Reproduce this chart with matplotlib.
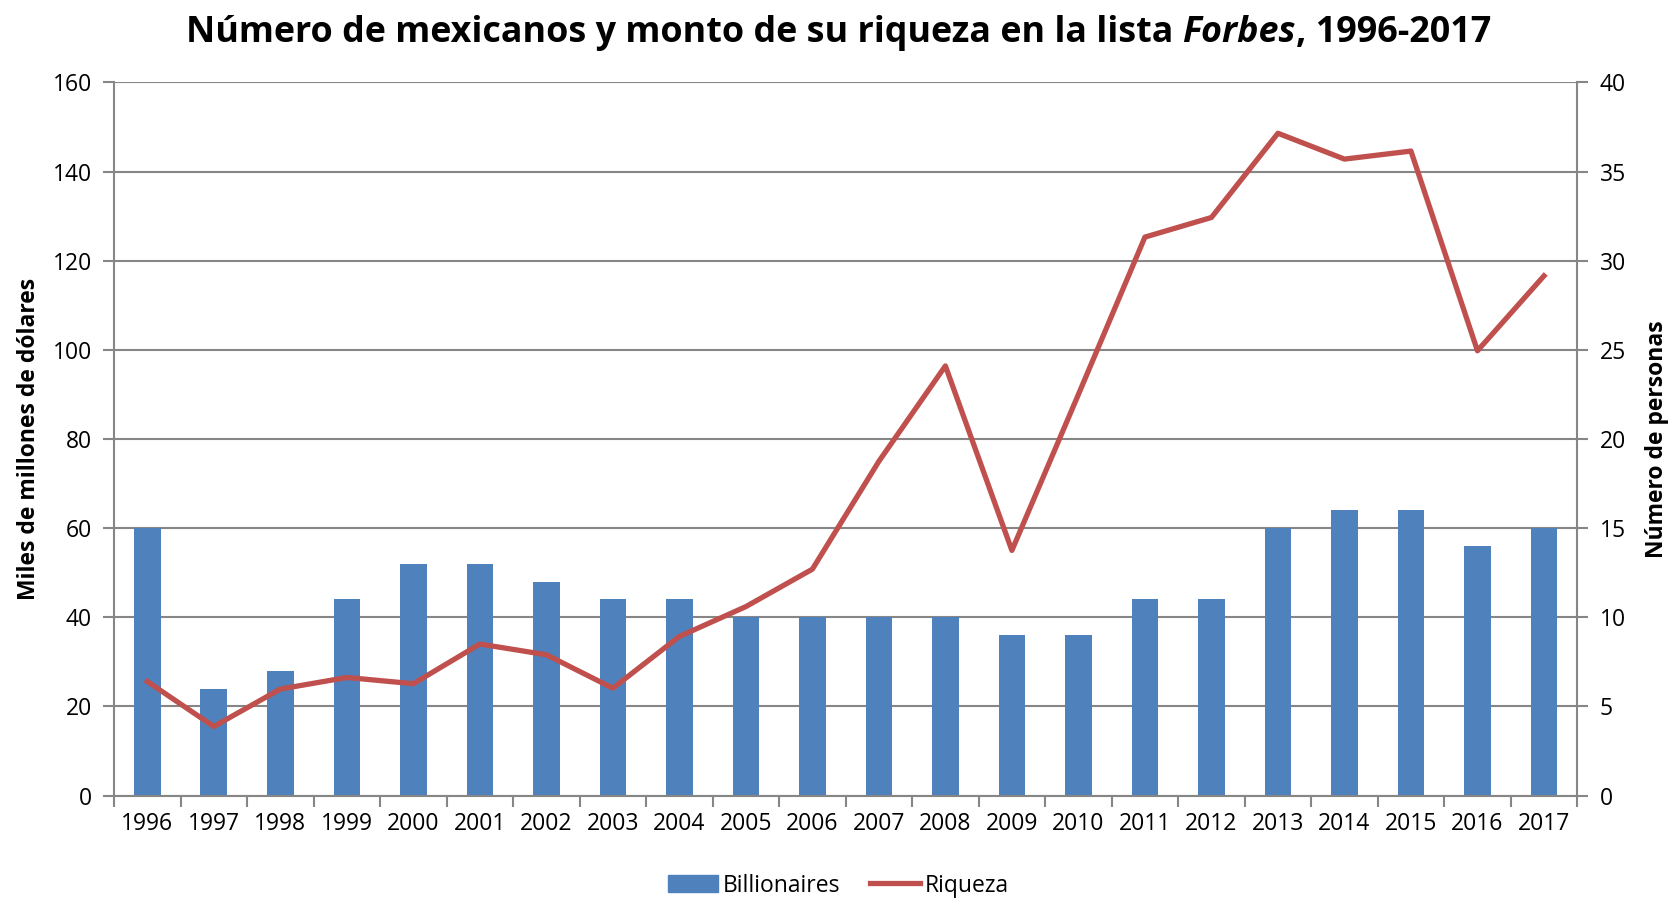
import matplotlib
matplotlib.use('Agg')
import matplotlib.pyplot as plt
from matplotlib.patches import Patch
from matplotlib.lines import Line2D

plt.rcParams['font.family'] = ['Open Sans', 'DejaVu Sans']

years = ['1996', '1997', '1998', '1999', '2000', '2001', '2002', '2003', '2004', '2005', '2006',
         '2007', '2008', '2009', '2010', '2011', '2012', '2013', '2014', '2015', '2016', '2017']
# número de personas (eje derecho)
billionaires = [15, 6, 7, 11, 13, 13, 12, 11, 11, 10, 10, 10, 10, 9, 9, 11, 11, 15, 16, 16, 14, 15]
# miles de millones de dólares (eje izquierdo)
riqueza = [25.6, 15.5, 23.9, 26.5, 25.1, 34.0, 31.6, 24.1, 35.7, 42.4, 50.8,
           75.0, 96.4, 55.0, 90.0, 125.3, 129.7, 148.6, 142.8, 144.6, 99.8, 116.6]

gray = '#868686'
x = list(range(len(years)))

fig = plt.figure(figsize=(16.77, 9.01), dpi=100)
ax = fig.add_axes([0.068, 0.117, 0.8725, 0.7915])

# barras en el eje principal, con la escala a la derecha
ax.bar(x, billionaires, width=0.4, color='#4F81BD', zorder=2)
ax.set_ylim(0, 40)
ax.set_xlim(-0.5, len(years) - 0.5)
ax.set_yticks(range(0, 41, 5))
ax.grid(axis='y', color=gray, linewidth=1.5)
ax.set_axisbelow(True)

ax.set_xticks(x)
ax.set_xticklabels(years)
ax.set_xticks([i - 0.5 for i in range(len(years) + 1)], minor=True)
ax.tick_params(axis='x', which='major', length=0, pad=12, labelsize=16.5)
ax.tick_params(axis='x', which='minor', length=8, width=1.5, color=gray, direction='out')

for s in ['top']:
    ax.spines[s].set_visible(False)
for s in ['left', 'right', 'bottom']:
    ax.spines[s].set_color(gray)
    ax.spines[s].set_linewidth(1.5)

# línea en el eje gemelo, con la escala a la izquierda
ax2 = ax.twinx()
ax2.plot(x, riqueza, color='#C0504D', linewidth=3.8, zorder=3)
ax2.set_ylim(0, 160)
ax2.set_yticks(range(0, 161, 20))
for s in ax2.spines.values():
    s.set_visible(False)

# twinx mueve las marcas del eje principal a la izquierda: se vuelven a colocar
ax.yaxis.tick_right()
ax.yaxis.set_label_position('right')
ax2.yaxis.tick_left()
ax2.yaxis.set_label_position('left')
ax.tick_params(axis='y', length=8, width=1.5, color=gray, labelsize=16.5, pad=8)
ax2.tick_params(axis='y', length=8, width=1.5, color=gray, labelsize=16.5, pad=8)
ax.set_ylabel('Número de personas', fontsize=16.5, fontweight='bold', labelpad=14)
ax2.set_ylabel('Miles de millones de dólares', fontsize=16.5, fontweight='bold', labelpad=8)

handles = [Patch(color='#4F81BD', label='Billionaires'),
           Line2D([0], [0], color='#C0504D', linewidth=3.8, label='Riqueza')]
fig.legend(handles=handles, loc='center', bbox_to_anchor=(0.5, 0.017), ncol=2,
           frameon=False, fontsize=16.5, handlelength=2.2, handleheight=0.8,
           columnspacing=1.3, handletextpad=0.2)

# título con "Forbes" en cursiva
parts = [('Número de mexicanos y monto de su riqueza en la lista ', 'normal'),
         ('Forbes', 'italic'),
         (', 1996-2017', 'normal')]
fig.canvas.draw()
renderer = fig.canvas.get_renderer()
texts = []
for s, st in parts:
    t = fig.text(0, 0.963, s, fontsize=25.8, fontweight='bold', style=st, va='center', ha='left')
    texts.append(t)
widths = [t.get_window_extent(renderer).width for t in texts]
xpos = fig.bbox.width * 0.5 - sum(widths) / 2
for t, w in zip(texts, widths):
    t.set_x(xpos / fig.bbox.width)
    xpos += w

fig.savefig('out.png', dpi=100)
